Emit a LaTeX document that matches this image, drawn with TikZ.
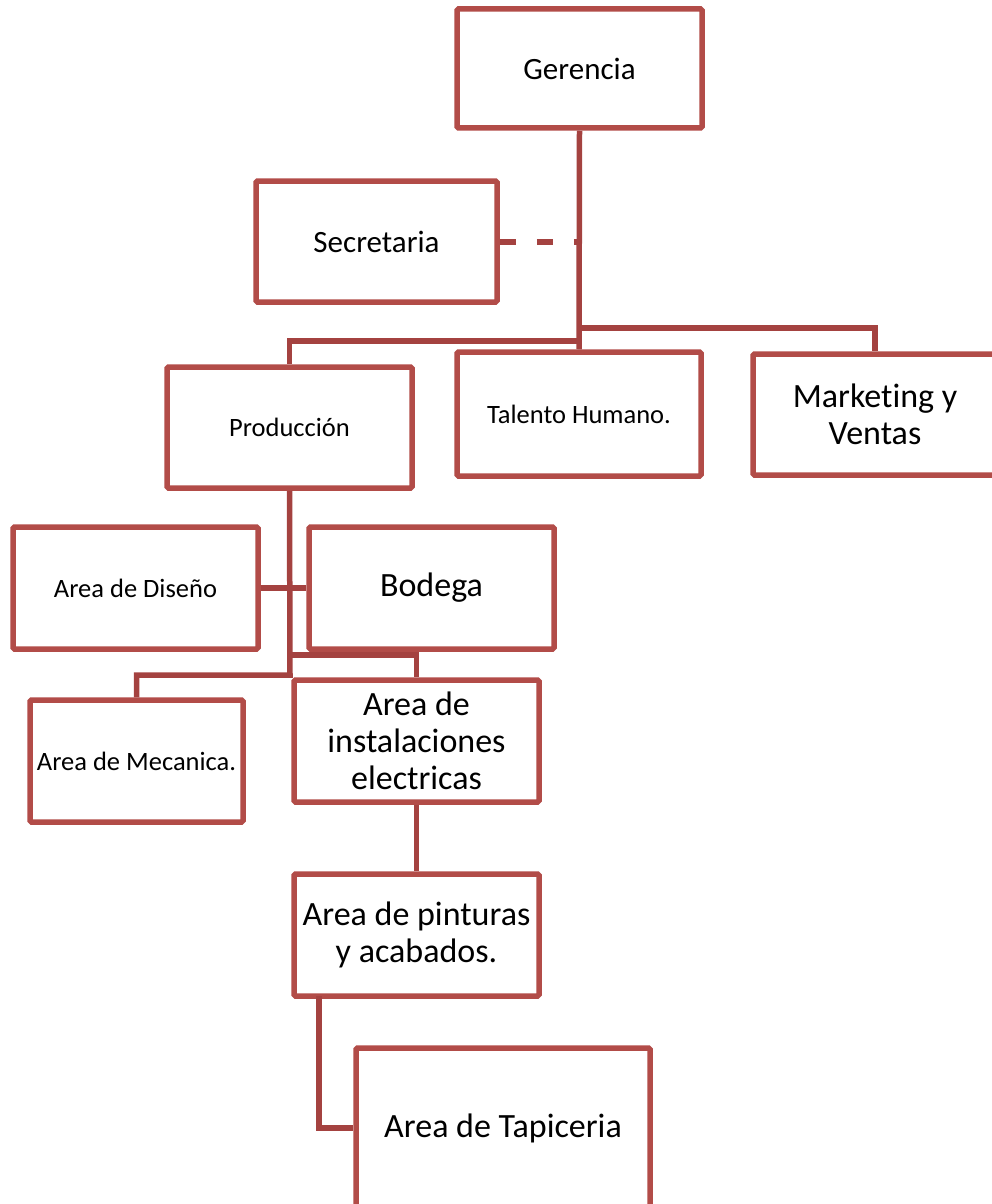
\documentclass[tikz,border=0pt]{standalone}
\usepackage{fontspec}
\setmainfont[Ligatures={NoCommon,NoContextual}]{Carlito}
\definecolor{boxred}{RGB}{178,76,72}
\definecolor{linered}{RGB}{164,66,64}
\begin{document}
\begin{tikzpicture}[x=1pt,y=-1pt,
  box/.style={draw=boxred, line width=5.5pt, rounded corners=1.5pt, fill=white, inner sep=0pt, align=center, text=black},
  big/.style={font=\fontsize{34}{37}\selectfont},
  mid/.style={font=\fontsize{31}{37}\selectfont},
  small/.style={font=\fontsize{26.5}{30}\selectfont},
  conn/.style={draw=linered, line width=5.5pt},
  dashconn/.style={draw=linered, line width=6pt, dash pattern=on 16pt off 21pt}]
\useasboundingbox (0,0) rectangle (992,1204);
\clip (0,0) rectangle (992,1204);
% nodes
\node[box, mid, minimum width=245pt, minimum height=119pt] (ger) at (579.5,68.5) {Gerencia};
\node[box, mid, minimum width=241pt, minimum height=121pt] (sec) at (376.5,241.5) {Secretaria};
\node[box, small, minimum width=245pt, minimum height=121pt] (prod) at (289.5,427.5) {Producción};
\node[box, small, minimum width=244pt, minimum height=124pt] (tal) at (579,414) {Talento Humano.};
\node[box, big, minimum width=244pt, minimum height=121pt] (mkt) at (875,414.5) {Market\kern0pt ing y\\Ventas};
\node[box, small, minimum width=245pt, minimum height=122pt] (dis) at (135.5,588) {Area de Diseño};
\node[box, big, minimum width=245pt, minimum height=122pt] (bod) at (431.5,588) {Bodega};
\node[box, small, minimum width=213pt, minimum height=122pt] (mec) at (136.5,761) {Area de Mecanica.};
\node[box, big, minimum width=245pt, minimum height=122pt] (ins) at (416.5,741) {Area de\\instalaciones\\electricas};
\node[box, big, minimum width=245pt, minimum height=122pt] (pin) at (416.5,935) {Area de pinturas\\y acabados.};
\node[box, big, minimum width=294pt, minimum height=160pt] (tap) at (503,1128) {Area de Tapiceria};
% junction coordinates
\coordinate (jm) at (579,328);
\coordinate (jp) at (579,341);
\coordinate (ji) at (290,655);
\coordinate (jc) at (290,675);
\coordinate (jt) at (319,996);
% connectors
\draw[conn] (ger.south) -- (tal.north);
\draw[dashconn] (sec.east) -- (sec.east -| ger.south);
\draw[conn] (jm) -| (mkt.north);
\draw[conn] (jp) -| (prod.north);
\draw[conn] (prod.south) -- (jc) -| (mec.north);
\draw[conn] (ji) -| (ins.north);
\draw[conn] (dis.east) -- (bod.west);
\draw[conn] (ins.south) -- (pin.north);
\draw[conn] (jt) |- (tap.west);
\end{tikzpicture}
\end{document}
